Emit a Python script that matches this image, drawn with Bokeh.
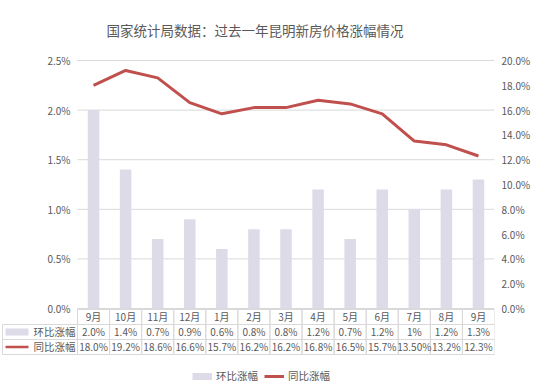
from bokeh.plotting import figure
from bokeh.models import (Range1d, LinearAxis, FixedTicker, PrintfTickFormatter,
                          Legend, LegendItem)
from bokeh.embed import file_html
from bokeh.resources import INLINE
from bokeh.core.properties import value

# ---------------- data ----------------
months = ["9月", "10月", "11月", "12月", "1月", "2月", "3月", "4月", "5月", "6月", "7月", "8月", "9月"]
mom = [2.0, 1.4, 0.7, 0.9, 0.6, 0.8, 0.8, 1.2, 0.7, 1.2, 1.0, 1.2, 1.3]          # 环比涨幅 (%)
yoy = [18.0, 19.2, 18.6, 16.6, 15.7, 16.2, 16.2, 16.8, 16.5, 15.7, 13.5, 13.2, 12.3]  # 同比涨幅 (%)
mom_labels = ["2.0%", "1.4%", "0.7%", "0.9%", "0.6%", "0.8%", "0.8%", "1.2%", "0.7%", "1.2%", "1%", "1.2%", "1.3%"]
yoy_labels = ["18.0%", "19.2%", "18.6%", "16.6%", "15.7%", "16.2%", "16.2%", "16.8%", "16.5%", "15.7%", "13.50%", "13.2%", "12.3%"]
left_ticks = [0.0, 0.5, 1.0, 1.5, 2.0, 2.5]
left_tick_labels = ["0.0%", "0.5%", "1.0%", "1.5%", "2.0%", "2.5%"]
right_ticks = [0, 2, 4, 6, 8, 10, 12, 14, 16, 18, 20]
series_names = ["环比涨幅", "同比涨幅"]
title_text = "国家统计局数据：过去一年昆明新房价格涨幅情况"

# ---------------- style / layout ----------------
FONT = "Noto Sans CJK SC"
GRAY = "#595959"
GRID = "#d9d9d9"
BAR = "#dedbe9"
RED = "#c0504d"
NAN = float("nan")

n = len(months)
idx = list(range(n))
px_x = 417 / n                 # pixels per category column
px_y = 99.2                    # pixels per 1 % on the left scale
x_low = -0.5 - 77 / px_x       # frame also holds the table's row-name column
y_low = -76 / px_y             # frame reaches down to the bottom legend
y_high = left_ticks[-1] + 8 / px_y   # head-room for the top value label
scale_ratio = right_ticks[-1] / left_ticks[-1]

def xpx(px):                   # pixels left of the first column -> x units
    return -0.5 - px / px_x

p = figure(width=535, height=384, output_backend="svg", toolbar_location=None,
           x_range=Range1d(x_low, n - 0.5), y_range=Range1d(y_low, y_high),
           x_axis_location=None, y_axis_location=None,
           min_border_left=0, min_border_right=41, min_border_top=52, min_border_bottom=0)
p.outline_line_color = None
p.background_fill_color = "white"
p.grid.visible = False

# gridlines over the value area
p.segment(x0=[-0.5] * len(left_ticks), x1=[n - 0.5] * len(left_ticks),
          y0=left_ticks, y1=left_ticks, line_color=GRID, line_width=1)

# left value labels
p.text(x=[xpx(7)] * len(left_ticks), y=left_ticks, text=left_tick_labels,
       text_align="right", text_baseline="middle", text_font=value(FONT),
       text_font_size="10px", text_color=GRAY)

# right axis (同比)
p.extra_y_ranges = {"yoy": Range1d(y_low * scale_ratio, y_high * scale_ratio)}
rax = LinearAxis(y_range_name="yoy", ticker=FixedTicker(ticks=right_ticks),
                 formatter=PrintfTickFormatter(format="%.1f%%"))
rax.axis_line_color = None
rax.major_tick_line_color = None
rax.minor_tick_line_color = None
rax.major_tick_out = 0
rax.major_tick_in = 0
rax.major_label_standoff = 7
rax.major_label_text_font = FONT
rax.major_label_text_font_size = "10px"
rax.major_label_text_color = GRAY
p.add_layout(rax, "right")

# bars and line
bars = p.vbar(x=idx, top=mom, width=0.36, fill_color=BAR, line_color=None)
line = p.line(x=idx, y=yoy, y_range_name="yoy", line_color=RED, line_width=3)
bar_key = p.line(x=[NAN], y=[NAN], line_color=BAR, line_width=7)

# data table under the chart
row_h = 15 / px_y
top0 = -0.01
centers = [top0 - row_h * (i + 0.5) for i in range(3)]
rows = [months, mom_labels, yoy_labels]
for c, texts in zip(centers, rows):
    p.rect(x=idx, y=[c] * n, width=1, height=row_h,
           fill_color=None, line_color=GRID, line_width=1)
    p.text(x=idx, y=[c] * n, text=texts, text_align="center", text_baseline="middle",
           text_font=value(FONT), text_font_size="10px", text_color=GRAY)

# row-name column of the table
name_left, name_right = xpx(75), -0.5
p.rect(x=[(name_left + name_right) / 2] * 2, y=centers[1:], width=name_right - name_left,
       height=row_h, fill_color=None, line_color=GRID, line_width=1)
p.text(x=[xpx(2)] * 2, y=centers[1:], text=series_names, text_align="right",
       text_baseline="middle", text_font=value(FONT), text_font_size="10.5px", text_color=GRAY)
key_l, key_r = xpx(72), xpx(49)
p.rect(x=[(key_l + key_r) / 2], y=[centers[1]], width=key_r - key_l, height=7 / px_y,
       fill_color=BAR, line_color=None)
p.segment(x0=[key_l], x1=[key_r], y0=[centers[2]], y1=[centers[2]],
          line_color=RED, line_width=2.5)

# bottom legend
bottom_legend = Legend(items=[LegendItem(label=series_names[0], renderers=[bar_key]),
                              LegendItem(label=series_names[1], renderers=[line])],
                       location=(192, 1), orientation="horizontal",
                       glyph_width=20, glyph_height=14, label_height=14, spacing=6,
                       label_standoff=4, border_line_color=None, background_fill_alpha=0,
                       label_text_font=FONT, label_text_font_size="10.5px",
                       label_text_color=GRAY, padding=0, margin=0)
p.add_layout(bottom_legend)

p.title.text = title_text
p.title.text_font = FONT
p.title.text_font_size = "13.5px"
p.title.text_font_style = "normal"
p.title.text_color = GRAY
p.title.align = "left"
p.title.offset = 106
p.title.standoff = 25

open("out.html", "w").write(file_html(p, INLINE))
